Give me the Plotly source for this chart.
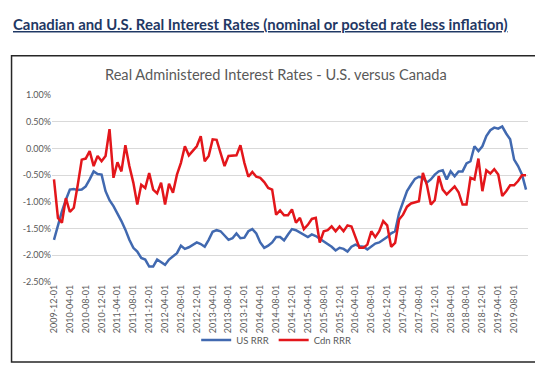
import pandas as pd
import plotly.graph_objects as go

months = [d.strftime("%Y-%m-%d") for d in pd.date_range("2009-12-01", "2019-11-01", freq="MS")]
tick_labels = months[::4]

us_rrr = [-1.71, -1.43, -1.18, -0.96, -0.77, -0.76, -0.78, -0.77, -0.71, -0.58,
          -0.43, -0.48, -0.49, -0.80, -0.97, -1.08, -1.21, -1.36, -1.52, -1.71,
          -1.86, -1.93, -2.05, -2.08, -2.21, -2.21, -2.08, -2.13, -2.18, -2.08,
          -2.02, -1.96, -1.82, -1.88, -1.85, -1.80, -1.76, -1.79, -1.84, -1.71,
          -1.56, -1.53, -1.55, -1.63, -1.71, -1.68, -1.59, -1.68, -1.67, -1.55,
          -1.51, -1.59, -1.76, -1.86, -1.82, -1.76, -1.66, -1.66, -1.72, -1.61,
          -1.51, -1.53, -1.57, -1.61, -1.66, -1.61, -1.64, -1.69, -1.74, -1.80,
          -1.84, -1.91, -1.86, -1.88, -1.93, -1.84, -1.80, -1.83, -1.84, -1.89,
          -1.83, -1.78, -1.76, -1.71, -1.66, -1.59, -1.55, -1.21, -0.99, -0.80,
          -0.68, -0.57, -0.53, -0.55, -0.64, -0.58, -0.49, -0.43, -0.41, -0.58,
          -0.43, -0.52, -0.43, -0.43, -0.28, -0.24, 0.04, -0.05, 0.04, 0.23,
          0.34, 0.39, 0.37, 0.41, 0.28, 0.17, -0.21, -0.33, -0.49, -0.77]

cdn_rrr = [-0.58, -1.30, -1.39, -0.93, -1.19, -1.11, -0.68, -0.21, -0.19, -0.05,
           -0.33, -0.14, -0.24, -0.14, 0.36, -0.55, -0.26, -0.43, 0.06, -0.33,
           -0.64, -1.05, -0.68, -0.74, -0.46, -0.77, -0.84, -0.64, -1.05, -0.66,
           -0.83, -0.49, -0.27, 0.04, -0.13, -0.05, 0.04, 0.23, -0.24, -0.14,
           0.17, 0.16, -0.11, -0.33, -0.14, -0.13, -0.13, 0.06, -0.27, -0.53,
           -0.44, -0.53, -0.55, -0.63, -0.74, -0.77, -1.24, -1.16, -1.25, -1.25,
           -1.14, -1.39, -1.30, -1.51, -1.43, -1.32, -1.30, -1.76, -1.55, -1.53,
           -1.46, -1.55, -1.46, -1.55, -1.44, -1.46, -1.68, -1.86, -1.86, -1.80,
           -1.55, -1.66, -1.55, -1.36, -1.44, -1.84, -1.77, -1.33, -1.24, -1.09,
           -1.03, -1.01, -0.99, -0.46, -0.68, -1.05, -0.97, -0.52, -0.77, -0.86,
           -0.78, -0.71, -0.82, -1.05, -1.05, -0.55, -0.58, -0.19, -0.80, -0.41,
           -0.47, -0.39, -0.49, -0.89, -0.80, -0.69, -0.69, -0.61, -0.50, -0.50]

y_ticks = [1.0, 0.5, 0.0, -0.5, -1.0, -1.5, -2.0, -2.5]
y_tick_labels = ["1.00%", "0.50%", "0.00%", "-0.50%", "-1.00%", "-1.50%", "-2.00%", "-2.50%"]

FONT = "Lato"
GREY = "#595959"

fig = go.Figure()
fig.add_trace(go.Scatter(x=months, y=us_rrr, mode="lines", name="US RRR",
                         line=dict(color="#4169B0", width=2.5)))
fig.add_trace(go.Scatter(x=months, y=cdn_rrr, mode="lines", name="Cdn RRR",
                         line=dict(color="#E3161B", width=2.5)))

fig.update_layout(
    width=543, height=365,
    margin=dict(l=44, r=23, t=87, b=91),
    paper_bgcolor="white", plot_bgcolor="white",
    font=dict(family=FONT, color=GREY, size=9),
    showlegend=True,
    legend=dict(orientation="h", x=0.471, xanchor="center", y=-0.31, yanchor="middle",
                font=dict(size=9.5, color=GREY, family=FONT), itemwidth=30,
                bgcolor="rgba(0,0,0,0)"),
    xaxis=dict(type="category", categoryorder="array", categoryarray=months,
               range=[-0.5, len(months) - 0.5],
               tickmode="array", tickvals=tick_labels, ticktext=tick_labels,
               tickangle=-90, showgrid=False, showline=False, zeroline=False,
               ticks="", tickfont=dict(size=9, color=GREY, family=FONT)),
    yaxis=dict(range=[-2.5, 1.0], tickmode="array", tickvals=y_ticks, ticktext=y_tick_labels,
               showgrid=True, gridcolor="#D9D9D9", gridwidth=1, zeroline=False,
               showline=False, ticks="", tickfont=dict(size=9, color=GREY, family=FONT)),
)

# outer chart frame
fig.add_shape(type="rect", xref="paper", yref="paper", x0=-0.085, x1=1.0198, y0=-0.428, y1=1.21,
              line=dict(color="#262626", width=1.5), fillcolor="rgba(0,0,0,0)", layer="below")

fig.add_annotation(xref="paper", yref="paper", x=-0.0857, y=1.38, xanchor="left", yanchor="middle",
                   text="<b><u>Canadian and U.S. Real Interest Rates (nominal or posted rate less inflation)</u></b>",
                   showarrow=False, font=dict(family=FONT, size=14.9, color="#1F3864"))
fig.add_annotation(xref="paper", yref="paper", x=0.471, y=1.107, xanchor="center", yanchor="middle",
                   text="Real Administered Interest Rates - U.S. versus Canada",
                   showarrow=False, font=dict(family=FONT, size=14.6, color=GREY))

fig.write_html("out.html")
